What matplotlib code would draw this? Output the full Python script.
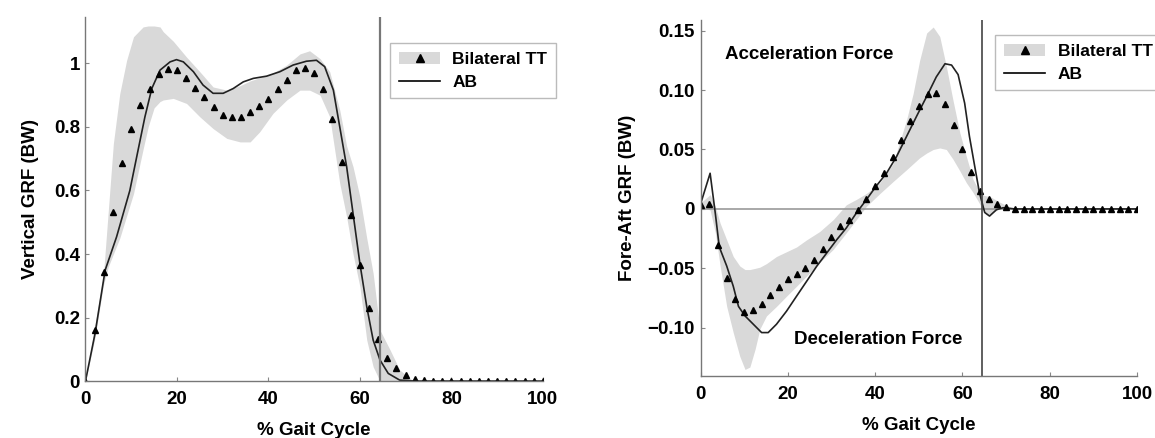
import matplotlib
matplotlib.use("Agg")
import matplotlib.pyplot as plt
from matplotlib.patches import Patch
from matplotlib.lines import Line2D

plt.rcParams['font.family'] = ['Liberation Sans', 'DejaVu Sans']
plt.rcParams['font.weight'] = 'bold'

# ---------------- Vertical GRF (left panel) ----------------
tri_x = list(range(0, 101, 2))
vert_tt = [0.0, 0.16, 0.344, 0.533, 0.687, 0.795, 0.869, 0.921, 0.968, 0.984,
           0.979, 0.955, 0.924, 0.895, 0.863, 0.839, 0.830, 0.832, 0.848, 0.866,
           0.888, 0.921, 0.948, 0.979, 0.985, 0.971, 0.921, 0.824, 0.689, 0.523,
           0.366, 0.229, 0.131, 0.074, 0.040, 0.019, 0.005, 0.002, 0.0, 0.0,
           0.0, 0.0, 0.0, 0.0, 0.0, 0.0, 0.0, 0.0, 0.0, 0.0, 0.0]

vert_ab_x = [0, 2.1, 4.3, 6.8, 9.7, 11.5, 13.0, 14.5, 16.3, 18.5, 19.9, 21.4,
             23.6, 25.7, 27.9, 30.1, 32.3, 34.5, 36.7, 39.6, 42.5, 45.4, 48.3,
             50.5, 52.3, 54.2, 55.6, 57.1, 58.5, 60.0, 61.5, 62.9, 64.4, 66.2,
             68.7, 72, 100]
vert_ab = [0.0, 0.15, 0.349, 0.454, 0.60, 0.727, 0.832, 0.921, 0.979, 1.005,
           1.012, 1.005, 0.974, 0.932, 0.906, 0.906, 0.921, 0.942, 0.953, 0.96,
           0.974, 0.995, 1.007, 1.01, 0.99, 0.916, 0.80, 0.675, 0.528, 0.37,
           0.234, 0.129, 0.066, 0.024, 0.003, 0.0, 0.0]

vert_band_x = [0, 2, 3.9, 5.0, 6.1, 7.5, 9.0, 10.5, 12.6, 13.7, 15.0, 16.3,
               17.0, 19.2, 22.1, 25, 27.9, 30.9, 33.8, 36.0, 38.1, 41.0, 44.0,
               46.9, 49.0, 51.3, 53.4, 55.6, 57.1, 58.5, 60.0, 61.5, 62.9,
               64.4, 66.6, 68.7, 71.7, 100]
vert_upper = [0.0, 0.17, 0.33, 0.538, 0.748, 0.905, 1.01, 1.084, 1.115, 1.118,
              1.118, 1.115, 1.10, 1.07, 1.02, 0.974, 0.926, 0.916, 0.93, 0.945,
              0.955, 0.97, 0.995, 1.03, 1.04, 1.015, 0.974, 0.853, 0.74, 0.675,
              0.58, 0.45, 0.339, 0.16, 0.098, 0.035, 0.0, 0.0]
vert_lower = [0.0, 0.13, 0.30, 0.36, 0.40, 0.45, 0.52, 0.59, 0.73, 0.80,
              0.86, 0.88, 0.885, 0.89, 0.874, 0.832, 0.795, 0.764, 0.753,
              0.753, 0.785, 0.843, 0.885, 0.916, 0.916, 0.90, 0.832, 0.622,
              0.517, 0.40, 0.297, 0.129, 0.045, 0.0, 0.0, 0.0, 0.0, 0.0]

# ---------------- Fore-Aft GRF (right panel) ----------------
fa_tt = [0.0036, 0.0045, -0.0306, -0.058, -0.076, -0.0869, -0.0846, -0.0796,
         -0.0721, -0.0656, -0.059, -0.0544, -0.050, -0.0426, -0.0336, -0.0235,
         -0.0146, -0.009, -0.0006, 0.0084, 0.019, 0.030, 0.0437, 0.058, 0.0736,
         0.0868, 0.0966, 0.0975, 0.0885, 0.0708, 0.0504, 0.0308, 0.0148,
         0.0084, 0.0045, 0.0017, 0.0, 0.0, 0.0, 0.0, 0.0, 0.0, 0.0, 0.0, 0.0,
         0.0, 0.0, 0.0, 0.0, 0.0, 0.0]

fa_ab_x = [0, 2.2, 3.4, 4.3, 6.0, 7.5, 8.7, 10.2, 12.1, 14.0, 15.5, 17.4, 19.7,
           22.0, 24.3, 26.6, 28.9, 31.2, 33.4, 35.7, 38.0, 40.2, 42.6, 44.9,
           47.2, 49.5, 51.8, 54.0, 56.0, 57.5, 59.0, 60.5, 61.6, 62.8, 63.9,
           65.1, 66.2, 67.8, 69.3, 72, 100]
fa_ab = [0.004, 0.030, -0.004, -0.032, -0.048, -0.065, -0.082, -0.090, -0.097,
         -0.104, -0.104, -0.097, -0.086, -0.0734, -0.0609, -0.0483, -0.0371,
         -0.0259, -0.016, -0.0034, 0.0078, 0.019, 0.030, 0.044, 0.061, 0.078,
         0.0946, 0.111, 0.1221, 0.121, 0.113, 0.089, 0.061, 0.036, 0.0134,
         -0.003, -0.006, -0.0006, 0.001, 0.0, 0.0]

fa_band_x = [0, 2.2, 3.4, 4.5, 6.0, 7.5, 9.0, 10.2, 11.3, 12.5, 13.6, 15.1, 17.4,
             19.7, 22.0, 24.3, 27.3, 30.4, 33.4, 35.7, 38.0, 41.1, 44.1, 47.2,
             48.7, 50.2, 51.8, 53.3, 54.8, 56.3, 57.8, 59.4, 60.9, 62.4, 64.3,
             65.4, 66.5, 68.4, 70.0, 72, 100]
fa_upper = [0.005, 0.012, 0.002, -0.012, -0.026, -0.040, -0.048, -0.051, -0.051,
            -0.050, -0.049, -0.046, -0.040, -0.036, -0.032, -0.026, -0.019,
            -0.009, 0.0035, 0.008, 0.013, 0.022, 0.038, 0.075, 0.097, 0.125,
            0.148, 0.153, 0.145, 0.120, 0.092, 0.064, 0.044, 0.025, 0.012,
            0.011, 0.010, 0.006, 0.003, 0.0, 0.0]
fa_lower = [0.003, -0.001, -0.020, -0.048, -0.082, -0.104, -0.124, -0.135,
            -0.133, -0.118, -0.101, -0.090, -0.082, -0.0734, -0.065, -0.0565,
            -0.045, -0.034, -0.020, -0.009, 0.0022, 0.013, 0.023, 0.033, 0.038,
            0.043, 0.047, 0.050, 0.0513, 0.050, 0.042, 0.032, 0.022, 0.014,
            0.002, -0.005, -0.004, 0.0, 0.0017, 0.0, 0.0]

x_ticks = [0, 20, 40, 60, 80, 100]
vert_yticks = [0, 0.2, 0.4, 0.6, 0.8, 1]
vert_yticklabels = ['0', '0.2', '0.4', '0.6', '0.8', '1']
fa_yticks = [-0.10, -0.05, 0, 0.05, 0.10, 0.15]
fa_yticklabels = ['\u22120.10', '\u22120.05', '0', '0.05', '0.10', '0.15']
toe_off = 64.5

band_color = '#d9d9d9'
FS = 13.5
fig = plt.figure(figsize=(11.55, 4.38), dpi=100)

ax1 = fig.add_axes([0.074, 0.130, 0.396, 0.831])
ax2 = fig.add_axes([0.6065, 0.1416, 0.378, 0.813])


def style(ax):
    for s in ['top', 'right']:
        ax.spines[s].set_visible(False)
    for s in ['left', 'bottom']:
        ax.spines[s].set_color('#777777')
        ax.spines[s].set_linewidth(1.0)
    ax.tick_params(direction='in', length=3, color='#888888', labelsize=FS,
                   width=0.8)
    ax.tick_params(axis='x', pad=7)
    ax.tick_params(axis='y', pad=4)
    for lab in ax.get_xticklabels() + ax.get_yticklabels():
        lab.set_fontweight('bold')


# Left panel
ax1.fill_between(vert_band_x, vert_lower, vert_upper, color=band_color, lw=0)
ax1.plot(vert_ab_x, vert_ab, color='#222222', lw=1.2)
ax1.plot(tri_x, vert_tt, linestyle='none', marker='^', color='black',
         markersize=4)
ax1.axvline(toe_off, color='#777777', lw=1.6)
ax1.set_xlim(0, 100)
ax1.set_ylim(0, 1.146)
ax1.set_xticks(x_ticks)
ax1.set_yticks(vert_yticks)
ax1.set_yticklabels(vert_yticklabels)
style(ax1)
ax1.set_xlabel('% Gait Cycle', fontsize=FS, fontweight='bold', labelpad=10)
ax1.set_ylabel('Vertical GRF (BW)', fontsize=FS, fontweight='bold', labelpad=11)

# Right panel
ax2.fill_between(fa_band_x, fa_lower, fa_upper, color=band_color, lw=0)
ax2.axhline(0, color='#999999', lw=1.2)
ax2.plot(fa_ab_x, fa_ab, color='#222222', lw=1.2)
ax2.plot(tri_x, fa_tt, linestyle='none', marker='^', color='black',
         markersize=4)
ax2.axvline(toe_off, color='#444444', lw=1.2)
ax2.set_xlim(0, 100)
ax2.set_ylim(-0.1405, 0.159)
ax2.set_xticks(x_ticks)
ax2.set_yticks(fa_yticks)
ax2.set_yticklabels(fa_yticklabels)
style(ax2)
ax2.set_xlabel('% Gait Cycle', fontsize=FS, fontweight='bold', labelpad=10)
ax2.set_ylabel('Fore-Aft GRF (BW)', fontsize=FS, fontweight='bold', labelpad=8)
ax2.text(25, 0.130, 'Acceleration Force', ha='center', va='center',
         fontsize=FS, fontweight='bold')
ax2.text(40.6, -0.110, 'Deceleration Force', ha='center', va='center',
         fontsize=FS, fontweight='bold')

handles = [(Patch(facecolor=band_color, edgecolor='none'),
            Line2D([], [], linestyle='none', marker='^', color='black',
                   markersize=6)),
           Line2D([], [], color='black', lw=1.2)]
labels = ['Bilateral TT', 'AB']
for bx, by in [(390 / 1155, 1 - 43 / 438), (995 / 1155, 1 - 35 / 438)]:
    leg = fig.legend(handles, labels, loc='upper left',
                     bbox_to_anchor=(bx, by), frameon=True, fancybox=False,
                     edgecolor='#aaaaaa', handlelength=2.4, handletextpad=0.7,
                     borderpad=0.5, borderaxespad=0, labelspacing=0.45,
                     prop={'weight': 'bold', 'size': 12.5})
    leg.get_frame().set_linewidth(1.0)

fig.savefig('out.png', dpi=100)
